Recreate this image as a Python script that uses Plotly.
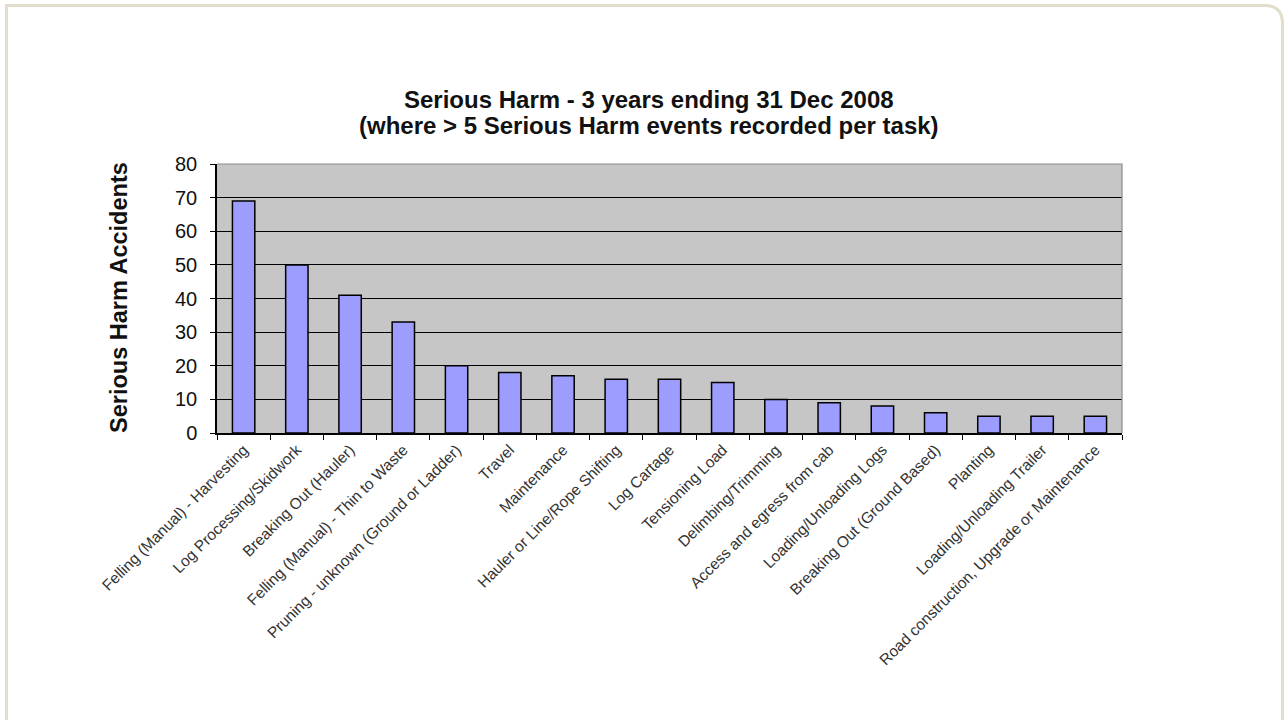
import plotly.graph_objects as go

# Tasks with more than 5 serious-harm events, 3 years to 31 Dec 2008
tasks = [
    "Felling (Manual) - Harvesting",
    "Log Processing/Skidwork",
    "Breaking Out (Hauler)",
    "Felling (Manual) - Thin to Waste",
    "Pruning - unknown (Ground or Ladder)",
    "Travel",
    "Maintenance",
    "Hauler or Line/Rope Shifting",
    "Log Cartage",
    "Tensioning Load",
    "Delimbing/Trimming",
    "Access and egress from cab",
    "Loading/Unloading Logs",
    "Breaking Out (Ground Based)",
    "Planting",
    "Loading/Unloading Trailer",
    "Road construction, Upgrade or Maintenance",
]
accidents = [69, 50, 41, 33, 20, 18, 17, 16, 16, 15, 10, 9, 8, 6, 5, 5, 5]
y_ticks = [0, 10, 20, 30, 40, 50, 60, 70, 80]

W, H = 1287, 720
L, R, T, B = 217, 1122, 164, 433  # plot-area box in pixels
pw, ph = R - L, B - T


def px(x):
    return (x - L) / pw


def py(y):
    return (B - y) / ph


FONT = "Liberation Sans, Arial, sans-serif"

fig = go.Figure(
    go.Bar(
        x=tasks,
        y=accidents,
        marker=dict(color="#9D9DFF", line=dict(color="#000000", width=1.5)),
        width=0.42,
    )
)

shapes = []
# light frame around the panel, rounded top-right corner
fx0, fy0, fx1, fy1, rad = 6.5, 5.5, 1282.5, 740, 18
shapes.append(dict(
    type="path", xref="paper", yref="paper",
    path=(f"M {px(fx0)},{py(fy1)} L {px(fx0)},{py(fy0)} "
          f"L {px(fx1 - rad)},{py(fy0)} Q {px(fx1)},{py(fy0)} {px(fx1)},{py(fy0 + rad)} "
          f"L {px(fx1)},{py(fy1)}"),
    line=dict(color="#E2DECB", width=3), layer="below",
))
# grey border on top and right of the plotting area
shapes.append(dict(
    type="path", xref="paper", yref="paper",
    path="M 0,1 L 1,1 L 1,0",
    line=dict(color="#8C8C8C", width=1.2), layer="above",
))

title_font = dict(size=24, family=FONT, color="#111111")

fig.update_layout(
    width=W, height=H,
    margin=dict(l=L, r=W - R, t=T, b=H - B, pad=0),
    paper_bgcolor="white",
    plot_bgcolor="#C6C6C6",
    showlegend=False,
    bargap=0.58,
    font=dict(family=FONT, color="#111111"),
    shapes=shapes,
    annotations=[
        dict(
            text="<b>Serious Harm - 3 years ending 31 Dec 2008</b>",
            xref="paper", yref="paper", x=px(649), y=py(100),
            xanchor="center", yanchor="middle", showarrow=False,
            font=title_font,
        ),
        dict(
            text="<b>(where > 5 Serious Harm events recorded per task)</b>",
            xref="paper", yref="paper", x=px(649), y=py(125),
            xanchor="center", yanchor="middle", showarrow=False,
            font=title_font,
        ),
        dict(
            text="<b>Serious Harm Accidents</b>",
            xref="paper", yref="paper", x=px(119), y=py(298),
            xanchor="center", yanchor="middle", textangle=-90, showarrow=False,
            font=dict(size=23.5, family=FONT, color="#111111"),
        ),
    ],
)

fig.update_xaxes(
    type="category",
    tickangle=-45,
    tickfont=dict(size=15.5, family=FONT, color="#333333"),
    ticks="outside", ticklen=5, tickwidth=1.3, tickcolor="#000000",
    tickson="boundaries",
    showline=True, linecolor="#000000", linewidth=1.5,
    showgrid=False,
)
fig.update_yaxes(
    range=[0, 80],
    tickvals=y_ticks,
    tickfont=dict(size=20, family=FONT, color="#111111"),
    ticks="outside", ticklen=5, tickwidth=1.3, tickcolor="#000000",
    ticklabelstandoff=9,
    showline=True, linecolor="#000000", linewidth=1.5,
    showgrid=True, gridcolor="#000000", gridwidth=1.4,
    zeroline=False,
)

fig.write_html("out.html")
